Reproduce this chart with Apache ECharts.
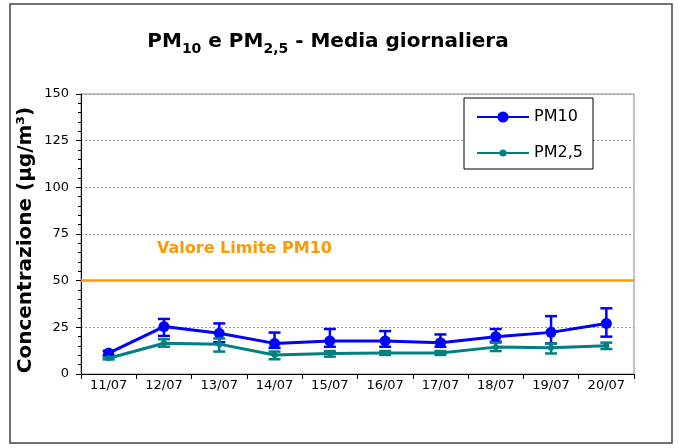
<!DOCTYPE html>
<html>
<head>
<meta charset="utf-8">
<script src="https://cdn.jsdelivr.net/npm/echarts@6/dist/echarts.min.js"></script>
<style>html,body{margin:0;padding:0;background:#fff;}#c{width:679px;height:448px;}</style>
</head>
<body>
<div id="c"></div>
<script>
const categories = ['11/07','12/07','13/07','14/07','15/07','16/07','17/07','18/07','19/07','20/07'];
const pm10 = [11.2, 25.4, 21.8, 16.4, 17.7, 17.7, 16.8, 20.0, 22.3, 27.1];
const pm10Low = [10.0, 20.4, 17.0, 14.0, 14.6, 14.6, 14.6, 17.3, 16.4, 20.0];
const pm10High = [12.4, 29.5, 27.1, 22.2, 24.1, 23.0, 21.2, 24.1, 31.0, 35.2];
const pm25 = [8.4, 16.5, 16.0, 10.2, 11.0, 11.3, 11.3, 14.4, 14.0, 15.2];
const pm25Low = [7.8, 14.6, 12.0, 7.9, 9.3, 10.2, 10.2, 12.3, 11.0, 13.4];
const pm25High = [9.0, 18.6, 19.0, 12.0, 12.3, 12.3, 12.3, 16.8, 16.4, 16.8];
const limitValue = 50;
const limitLabel = 'Valore Limite PM10';
const yTicks = [0, 25, 50, 75, 100, 125, 150];

const FONT = 'DejaVu Sans';

function errData(low, high) {
  return categories.map((c, i) => [i, low[i], high[i]]);
}
function errRender(color) {
  return function (params, api) {
    const i = api.value(0);
    const lo = api.coord([i, api.value(1)]);
    const hi = api.coord([i, api.value(2)]);
    const hw = 6;
    const style = { stroke: color, lineWidth: 2.5 };
    return {
      type: 'group',
      children: [
        { type: 'line', shape: { x1: lo[0], y1: lo[1], x2: hi[0], y2: hi[1] }, style },
        { type: 'line', shape: { x1: lo[0] - hw, y1: lo[1], x2: lo[0] + hw, y2: lo[1] }, style },
        { type: 'line', shape: { x1: hi[0] - hw, y1: hi[1], x2: hi[0] + hw, y2: hi[1] }, style }
      ]
    };
  };
}

const chart = echarts.init(document.getElementById('c'), null, { renderer: 'canvas' });
chart.setOption({
  animation: false,
  backgroundColor: '#fff',
  title: {
    text: '{b|PM}{s|10}{b| e PM}{s|2,5}{b| - Media giornaliera}',
    left: 323, top: 23, textAlign: 'center',
    textStyle: {
      rich: {
        b: { fontFamily: FONT, fontWeight: 'bold', fontSize: 20, lineHeight: 28, color: '#000' },
        s: { fontFamily: FONT, fontWeight: 'bold', fontSize: 14, lineHeight: 19, verticalAlign: 'bottom', color: '#000' }
      }
    }
  },
  graphic: [
    { type: 'rect', shape: { x: 10, y: 4, width: 662, height: 439 }, style: { fill: 'none', stroke: '#444', lineWidth: 1.5 }, z: 100 },
    { type: 'rect', shape: { x: 464, y: 98, width: 129, height: 71 }, style: { fill: '#fff', stroke: '#000', lineWidth: 1 }, z: 5 },
    { type: 'text', left: 157, top: 241, style: { text: limitLabel, font: 'bold 16px "DejaVu Sans"', fill: '#FF9900' }, z: 10 }
  ],
  legend: [
    {
      data: ['PM10'], left: 476, top: 109, padding: 0,
      itemWidth: 52, itemHeight: 14, itemGap: 22, z: 10,
      textStyle: { fontFamily: FONT, fontSize: 16, color: '#000' }
    },
    {
      data: ['PM2,5'], left: 476, top: 145, padding: 0,
      itemWidth: 52, itemHeight: 9, z: 10,
      textStyle: { fontFamily: FONT, fontSize: 16, color: '#000', padding: [0,0,0,0] }
    }
  ],
  grid: { left: 81, right: 45, top: 94, bottom: 74, show: true, borderColor: '#888', borderWidth: 1 },
  xAxis: {
    type: 'category', data: categories, boundaryGap: true,
    axisLine: { lineStyle: { color: '#000', width: 1 } },
    axisTick: { show: true, interval: 0, length: 5, lineStyle: { color: '#000' } },
    axisLabel: { fontFamily: FONT, fontSize: 13, color: '#000', margin: 5, interval: 0 },
    splitLine: { show: false }
  },
  yAxis: {
    type: 'value', min: 0, max: 150, interval: 25,
    name: 'Concentrazione (µg/m³)', nameLocation: 'middle', nameGap: 45, nameMoveOverlap: false,
    nameTextStyle: { fontFamily: FONT, fontWeight: 'bold', fontSize: 20, color: '#000', padding: [0, 12, 0, 0] },
    axisLine: { show: true, lineStyle: { color: '#000', width: 1 } },
    axisTick: { show: true, length: 5, lineStyle: { color: '#000' } },
    minorTick: { show: true, splitNumber: 5, length: 3, lineStyle: { color: '#000' } },
    axisLabel: { fontFamily: FONT, fontSize: 13, color: '#000', margin: 12,
      formatter: v => yTicks.indexOf(v) >= 0 ? String(v) : '' },
    splitLine: { show: true, lineStyle: { color: '#999', type: [2, 2], width: 1 } }
  },
  series: [
    {
      name: 'limit', type: 'line', data: [], silent: true,
      markLine: {
        silent: true, symbol: 'none', label: { show: false },
        lineStyle: { color: '#FF9900', width: 2.5, type: 'solid' },
        data: [{ yAxis: limitValue }]
      }
    },
    { name: 'errPM10', type: 'custom', renderItem: errRender('#0000FF'), data: errData(pm10Low, pm10High), z: 3 },
    {
      name: 'PM10', type: 'line', data: pm10, color: '#0000FF', z: 4,
      symbol: 'circle', symbolSize: 11,
      lineStyle: { color: '#0000FF', width: 3 }, itemStyle: { color: '#0000FF' }
    },
    { name: 'errPM25', type: 'custom', renderItem: errRender('#008080'), data: errData(pm25Low, pm25High), z: 5 },
    {
      name: 'PM2,5', type: 'line', data: pm25, color: '#008080', z: 6,
      symbol: 'circle', symbolSize: 6,
      lineStyle: { color: '#008080', width: 3 }, itemStyle: { color: '#008080' }
    }
  ]
});
</script>
</body>
</html>
